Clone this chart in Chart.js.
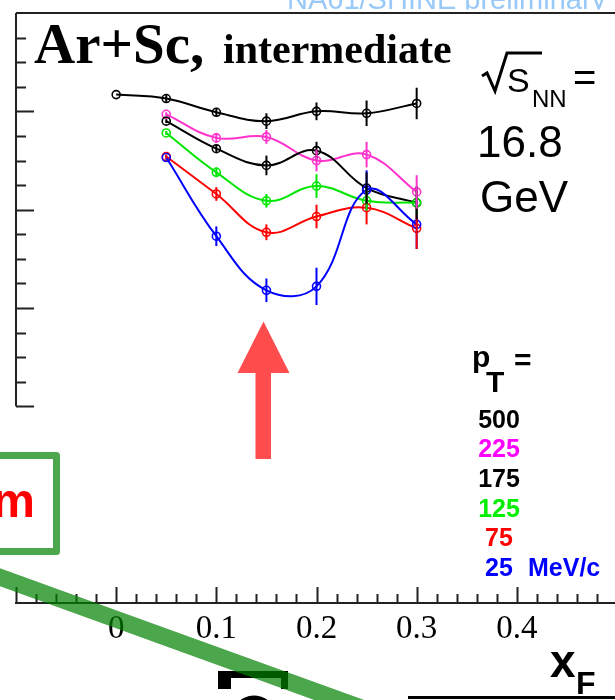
<!DOCTYPE html>
<html><head><meta charset="utf-8">
<script src="https://cdn.jsdelivr.net/npm/chart.js@4.4.1/dist/chart.umd.min.js"></script>
<style>
html,body{margin:0;padding:0;overflow:hidden;background:#fff;width:615px;height:700px}
#wrap{width:640px;height:700px}
canvas{display:block}
</style></head>
<body><div id="wrap"><canvas id="c" width="640" height="700"></canvas></div>
<script>
// ---- data ----
const xF = [0, 0.05, 0.1, 0.15, 0.2, 0.25, 0.3];
const pt500 = [5.17, 5.13, 4.99, 4.90, 5.00, 4.98, 5.08];
const err500 = [0, 0.04, 0.04, 0.08, 0.09, 0.13, 0.16];
const pt225 = [null, 4.97, 4.73, 4.74, 4.50, 4.56, 4.18];
const err225 = [null, 0.02, 0.05, 0.07, 0.11, 0.13, 0.17];
const pt175 = [null, 4.90, 4.62, 4.45, 4.60, 4.22, 4.07];
const err175 = [null, 0.02, 0.04, 0.10, 0.09, 0.16, 0.17];
const pt125 = [null, 4.78, 4.38, 4.09, 4.24, 4.09, 4.07];
const err125 = [null, 0.02, 0.05, 0.07, 0.12, 0.10, 0.12];
const pt75 = [null, 4.54, 4.16, 3.77, 3.93, 4.02, 3.81];
const err75 = [null, 0.02, 0.07, 0.08, 0.12, 0.17, 0.21];
const pt25 = [null, 4.53, 3.73, 3.18, 3.22, 4.20, 3.85];
const err25 = [null, 0.02, 0.10, 0.12, 0.19, 0.20, 0.25];

const seriesLabels = ['500', '225', '175', '125', '75', '25'];
const xTickValues = [0, 0.1, 0.2, 0.3, 0.4];
const xTickLabels = ['0', '0.1', '0.2', '0.3', '0.4'];

const C500 = '#000000', C225 = '#ff33cc', C175 = '#000000', C125 = '#00e600', C75 = '#ff0000', C25 = '#0000ff';
const LEG = ['#000000', '#ff00ff', '#000000', '#00ee00', '#ff0000', '#0000ff'];

function mk(label, ys, errs, color, order) {
  return {
    label, errs, order,
    data: xF.map((x, i) => ({x, y: ys[i], e: errs[i]})).filter(p => p.y !== null),
    borderColor: color, backgroundColor: color, borderWidth: 2,
    tension: 0.4, fill: false,
    pointStyle: 'circle', pointRadius: 4, pointBorderWidth: 1.6,
    pointBorderColor: color, pointBackgroundColor: 'rgba(255,255,255,0)'
  };
}

const datasets = [
  mk(seriesLabels[5], pt25, err25, C25, 1),
  mk(seriesLabels[4], pt75, err75, C75, 2),
  mk(seriesLabels[3], pt125, err125, C125, 3),
  mk(seriesLabels[2], pt175, err175, C175, 4),
  mk(seriesLabels[1], pt225, err225, C225, 5),
  mk(seriesLabels[0], pt500, err500, C500, 6)
];

const deco = {
  id: 'deco',
  afterDatasetsDraw(chart) {
    const ctx = chart.ctx, xs = chart.scales.x, ys = chart.scales.y;
    ctx.save();
    ctx.lineWidth = 2;
    chart.data.datasets.forEach(d => {
      ctx.strokeStyle = d.borderColor;
      d.data.forEach(p => {
        if (!p.e) return;
        const px = xs.getPixelForValue(p.x);
        ctx.beginPath();
        ctx.moveTo(px, ys.getPixelForValue(p.y + p.e));
        ctx.lineTo(px, ys.getPixelForValue(p.y - p.e));
        ctx.stroke();
      });
    });
    ctx.restore();
  },
  afterDraw(chart) {
    const ctx = chart.ctx, xs = chart.scales.x, ys = chart.scales.y, ca = chart.chartArea;
    ctx.save();
    // frame / axes
    ctx.strokeStyle = '#222'; ctx.lineWidth = 2;
    ctx.beginPath();
    ctx.moveTo(ca.left, ca.top); ctx.lineTo(ca.right + 30, ca.top);
    ctx.moveTo(ca.left, ca.top); ctx.lineTo(ca.left, ys.getPixelForValue(2));
    ctx.moveTo(ca.left - 1, ca.bottom); ctx.lineTo(ca.right + 30, ca.bottom);
    ctx.stroke();
    // y ticks (inward)
    ctx.beginPath();
    for (let k = 8; k < 24; k++) {
      const v = k * 0.25;
      const py = Math.round(ys.getPixelForValue(v)) + 0.5;
      const len = (k % 4 === 0) ? 18 : 10;
      ctx.moveTo(ca.left, py); ctx.lineTo(ca.left + len, py);
    }
    // x ticks (inward)
    for (let k = -5; k <= 25; k++) {
      const v = k * 0.02;
      const px = Math.round(xs.getPixelForValue(v)) + 0.5;
      const len = (k % 5 === 0) ? 16 : 9;
      ctx.moveTo(px, ca.bottom); ctx.lineTo(px, ca.bottom - len);
    }
    ctx.stroke();
    // x tick labels
    ctx.fillStyle = '#000';
    ctx.font = '33px "Liberation Serif"';
    ctx.textAlign = 'center'; ctx.textBaseline = 'alphabetic';
    xTickValues.forEach((v, i) => ctx.fillText(xTickLabels[i], xs.getPixelForValue(v), 638));
    // axis title x_F
    ctx.textAlign = 'left';
    ctx.font = 'bold 46px "Liberation Sans"';
    ctx.fillText('x', 550, 677);
    ctx.font = 'bold 32px "Liberation Sans"';
    ctx.fillText('F', 576, 694);
    // underline bottom right
    ctx.fillRect(408, 696, 220, 3);
    // bracket-like glyph piece at bottom
    ctx.fillRect(218, 671, 70, 7);
    ctx.fillRect(218, 671, 13, 18);
    ctx.fillRect(281, 671, 7, 18);
    ctx.lineWidth = 7; ctx.strokeStyle = '#000';
    ctx.beginPath(); ctx.ellipse(254, 716, 18, 17, 0, Math.PI * 1.1, Math.PI * 1.9); ctx.stroke();

    // preliminary label (clipped)
    ctx.save();
    ctx.beginPath(); ctx.rect(0, 0, 640, 9.5); ctx.clip();
    ctx.fillStyle = '#99c9f8';
    ctx.font = '29px "Liberation Sans"';
    ctx.fillText('NA61/SHINE preliminary', 287, 8.5);
    ctx.restore();

    // title
    ctx.fillStyle = '#000';
    ctx.font = 'bold 57px "Liberation Serif"';
    ctx.fillText('Ar+Sc,', 34, 63);
    ctx.font = 'bold 42px "Liberation Serif"';
    ctx.fillText('intermediate', 223, 63);

    // sqrt s_NN = 16.8 GeV
    ctx.lineWidth = 3; ctx.lineJoin = 'miter';
    ctx.beginPath();
    ctx.moveTo(482, 76); ctx.lineTo(487, 73); ctx.lineTo(495, 91); ctx.lineTo(507, 53); ctx.lineTo(542, 53);
    ctx.stroke();
    ctx.font = '34px "Liberation Sans"';
    ctx.fillText('S', 507, 92);
    ctx.font = '24px "Liberation Sans"';
    ctx.fillText('NN', 532, 107);
    ctx.font = '40px "Liberation Sans"';
    ctx.fillText('=', 573, 91);
    ctx.font = '44px "Liberation Sans"';
    ctx.fillText('16.8', 477, 157);
    ctx.fillText('GeV', 480, 212);

    // p_T legend
    ctx.font = 'bold 30px "Liberation Sans"';
    ctx.fillText('p', 472, 367);
    ctx.fillText('T', 486, 392);
    ctx.fillText('=', 514, 370);
    ctx.font = 'bold 25px "Liberation Sans"';
    ctx.textAlign = 'center';
    const base = [428, 457, 487, 517, 546, 576];
    seriesLabels.forEach((t, i) => { ctx.fillStyle = LEG[i]; ctx.fillText(t, 499, base[i]); });
    ctx.textAlign = 'left'; ctx.fillStyle = LEG[5];
    ctx.fillText('MeV/c', 528, 576);

    // red arrow
    ctx.fillStyle = '#ff4d4d';
    ctx.beginPath();
    ctx.moveTo(263.5, 321.5); ctx.lineTo(289.5, 373); ctx.lineTo(271, 373); ctx.lineTo(271, 459);
    ctx.lineTo(255.5, 459); ctx.lineTo(255.5, 373); ctx.lineTo(237.5, 373); ctx.closePath();
    ctx.fill();

    // green box with red m
    ctx.fillStyle = '#ff0000';
    ctx.font = 'bold 48px "Liberation Sans"';
    ctx.textAlign = 'right';
    ctx.fillText('m', 35, 517);
    ctx.strokeStyle = 'rgba(0,128,0,0.7)'; ctx.lineWidth = 7; ctx.lineJoin = 'round';
    ctx.beginPath();
    ctx.moveTo(-10, 455.5); ctx.lineTo(56.5, 455.5); ctx.lineTo(56.5, 551.5); ctx.lineTo(-10, 551.5);
    ctx.stroke();
    // green diagonal stroke
    ctx.lineWidth = 17; ctx.lineCap = 'butt';
    ctx.beginPath(); ctx.moveTo(-20, 570); ctx.lineTo(400, 722); ctx.stroke();
    ctx.restore();
  }
};

new Chart(document.getElementById('c'), {
  type: 'line',
  data: { datasets },
  options: {
    responsive: false, animation: false,
    layout: { padding: { left: 16, top: 13, right: 23, bottom: 97 } },
    plugins: { legend: { display: false }, tooltip: { enabled: false } },
    scales: {
      x: { type: 'linear', min: -0.1, max: 0.5, display: false },
      y: { type: 'linear', min: 0, max: 6, display: false }
    }
  },
  plugins: [deco]
});
</script>
</body></html>
